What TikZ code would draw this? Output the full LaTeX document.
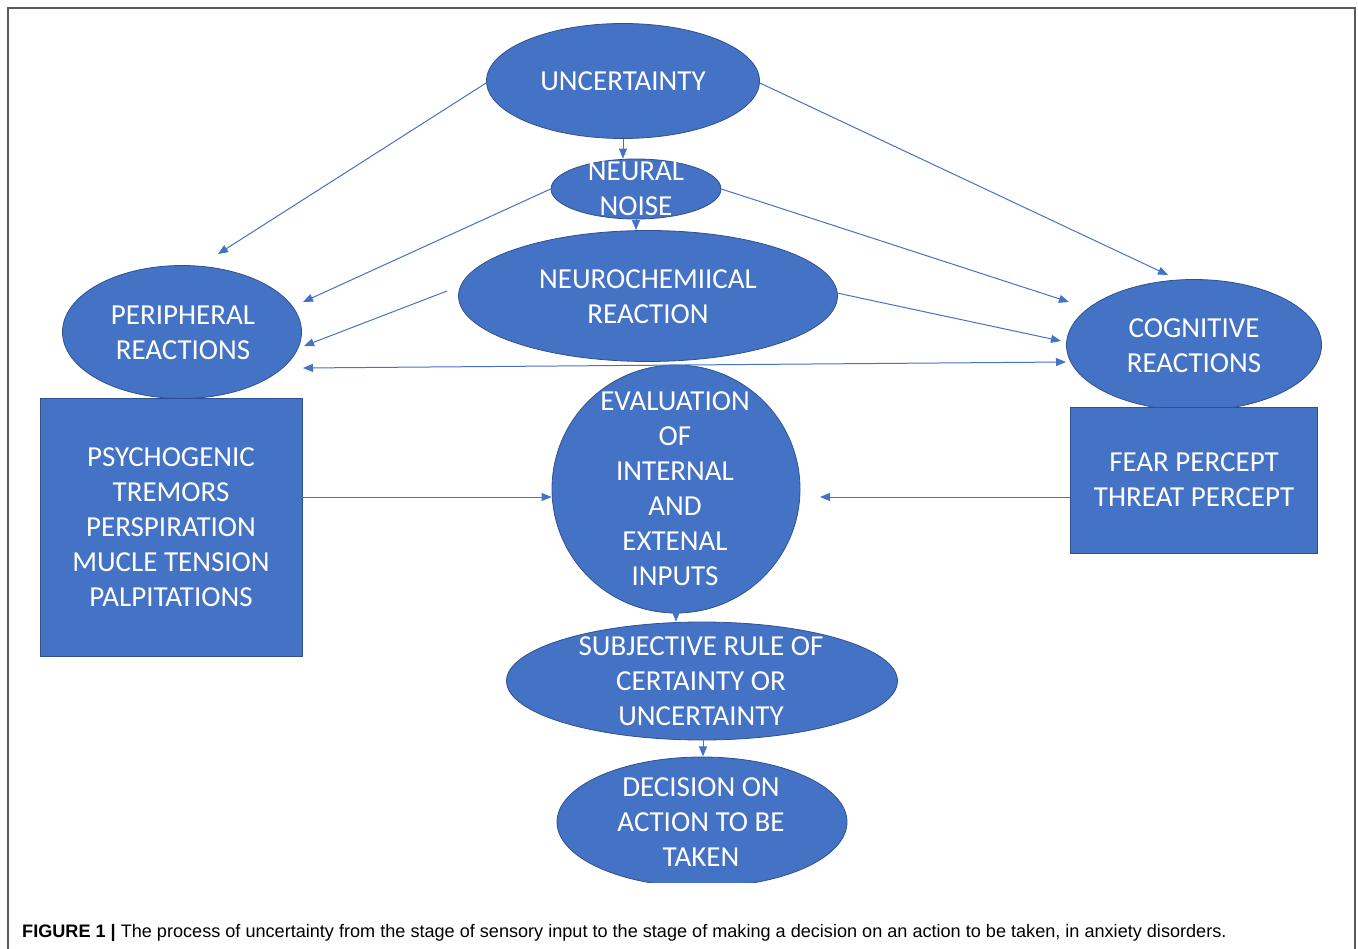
\documentclass[tikz,border=0pt]{standalone}
\usepackage{fontspec}
\setmainfont{Carlito}
\newfontfamily\capfont{Liberation Sans}
\usetikzlibrary{shapes.geometric,arrows.meta}
\definecolor{obl}{HTML}{4472C4}
\definecolor{obd}{HTML}{2F528F}
\definecolor{frm}{HTML}{5A5A5A}
\tikzset{
  ell/.style={ellipse,fill=obl,draw=obd,line width=0.8pt,inner sep=0pt},
  boxn/.style={rectangle,fill=obl,draw=obd,line width=0.8pt,inner sep=0pt},
  lbl/.style={text=white,align=center,inner sep=0pt,font=\fontsize{29}{35}\selectfont},
  arr/.style={draw=obl,line width=1pt,-{Triangle[length=10pt,width=8pt]}},
  darr/.style={draw=obl,line width=1pt,{Triangle[length=10pt,width=8pt]}-{Triangle[length=10pt,width=8pt]}},
}
\begin{document}
\begin{tikzpicture}[x=1pt,y=-1pt]
\useasboundingbox (0,0) rectangle (1358,949);
\draw[frm,line width=1.5pt] (8,8) rectangle (1355,970);
% shapes
\node[ell,minimum width=273pt,minimum height=115pt] (unc) at (623,81) {};
\node[ell,minimum width=170pt,minimum height=60pt] (nn) at (636,189) {};
\node[ell,minimum width=379pt,minimum height=131pt] (nc) at (648,296) {};
\node[ell,minimum width=239pt,minimum height=133pt] (pr) at (182,332) {};
\node[ell,minimum width=255pt,minimum height=131pt] (cr) at (1194,345) {};
\node[boxn,minimum width=262pt,minimum height=258pt] (lb) at (171,527) {};
\node[boxn,minimum width=247pt,minimum height=146pt] (rb) at (1193.5,480) {};
\node[circle,fill=obl,draw=obd,line width=0.8pt,inner sep=0pt,minimum size=248pt] (ev) at (676,489) {};
\node[ell,minimum width=391pt,minimum height=118pt] (sr) at (702,681) {};
\begin{scope}
\clip (0,0) rectangle (1358,882);
\node[ell,minimum width=290pt,minimum height=130pt] (dc) at (702,822) {};
\end{scope}
% labels
\node[lbl] (tunc) at (623,81) {UNCERTAINTY};
\node[lbl] (tnn) at (636,189) {NEURAL\\NOISE};
\node[lbl] (tnc) at (648,296.5) {NEUROCHEMIICAL\\REACTION};
\node[lbl] (tpr) at (183,332.5) {PERIPHERAL\\REACTIONS};
\node[lbl] (tcr) at (1194,345.5) {COGNITIVE\\REACTIONS};
\node[lbl] (tlb) at (171,527) {PSYCHOGENIC\\TREMORS\\PERSPIRATION\\MUCLE TENSION\\PALPITATIONS};
\node[lbl] (trb) at (1194,479.5) {FEAR PERCEPT\\THREAT PERCEPT};
\node[lbl] (tev) at (675,489) {EVALUATION\\OF\\INTERNAL\\AND\\EXTENAL\\INPUTS};
\node[lbl] (tsr) at (701,681) {SUBJECTIVE RULE OF\\CERTAINTY OR\\UNCERTAINTY};
\node[lbl] (tdc) at (701,822) {DECISION ON\\ACTION TO BE\\TAKEN};
% free ends
\coordinate (e1) at (218,254);
\coordinate (e2) at (1168,275);
\coordinate (e5) at (303,302);
\coordinate (e6) at (1069,302);
\coordinate (s7) at (447,291);
\coordinate (e7) at (304,346);
\coordinate (e8) at (1061,341);
\coordinate (d1) at (303,368);
\coordinate (d2) at (1066,362);
\coordinate (e11) at (820,497);
% connectors
\draw[arr] (unc.west) ++(0,2) -- (e1);
\draw[arr] (unc.east) ++(0,2) -- (e2);
\draw[arr] (unc.south) -- (nn.north -| unc.south);
\draw[arr] (nn.south) -- (nn.south |- nc.north);
\draw[arr] (nn.west) -- (e5);
\draw[arr] (nn.east) -- (e6);
\draw[arr] (s7) -- (e7);
\draw[arr] (nc.east) ++(-1,-3) -- (e8);
\draw[darr] (d1) -- (d2);
\draw[arr] (lb.east |- e11) -- (ev.west |- e11);
\draw[arr] (rb.west |- e11) -- (e11);
\draw[arr] (ev.south) -- (ev.south |- sr.north);
\draw[arr] (sr.south) ++(1,0) -- ++(0,16);
% caption
\node[anchor=base west,inner sep=0pt,font=\capfont\fontsize{18.1}{21}\selectfont] (cap) at (22,937)
  {\textbf{FIGURE 1 |} The process of uncertainty from the stage of sensory input to the stage of making a decision on an action to be taken, in anxiety disorders.};
\end{tikzpicture}
\end{document}
